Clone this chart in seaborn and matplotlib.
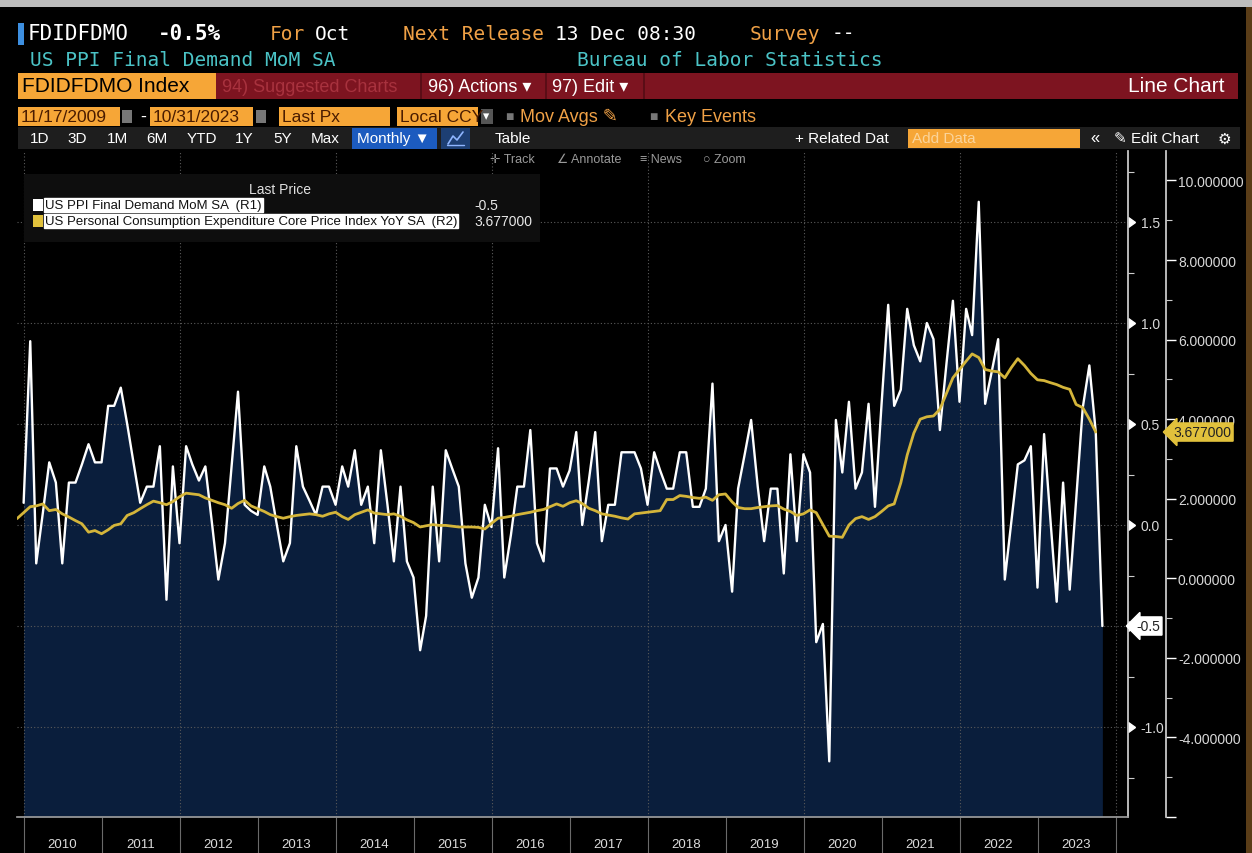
import pandas as pd
import seaborn as sns
import matplotlib.pyplot as plt
import matplotlib.dates as mdates
import matplotlib.ticker as mticker
import matplotlib.markers as mmarkers
from matplotlib.patches import Rectangle
from matplotlib.lines import Line2D
from matplotlib.transforms import blended_transform_factory, offset_copy

# US PPI final demand MoM SA (%), Dec 2009 - Oct 2023
ppi_start = "2009-12-31"
ppi_mom = [
    0.11,
    0.91, -0.19, 0.06, 0.31, 0.21, -0.19, 0.21, 0.21, 0.30, 0.40, 0.31, 0.31,
    0.59, 0.59, 0.68, 0.50, 0.30, 0.11, 0.19, 0.19, 0.39, -0.37, 0.29, -0.09,
    0.39, 0.30, 0.22, 0.29, 0.01, -0.27, -0.09, 0.29, 0.66, 0.10, 0.07, 0.05,
    0.29, 0.19, 0.00, -0.18, -0.09, 0.39, 0.19, 0.12, 0.05, 0.19, 0.19, 0.10,
    0.29, 0.19, 0.37, 0.10, 0.19, -0.09, 0.37, 0.10, -0.18, 0.19, -0.18, -0.26,
    -0.62, -0.45, 0.19, -0.18, 0.37, 0.28, 0.19, -0.19, -0.36, -0.26, 0.10, -0.01,
    0.38, -0.26, -0.05, 0.19, 0.19, 0.47, -0.09, -0.18, 0.28, 0.28, 0.19, 0.27,
    0.46, 0.00, 0.22, 0.46, -0.08, 0.10, 0.10, 0.36, 0.36, 0.36, 0.28, 0.10,
    0.36, 0.27, 0.18, 0.18, 0.36, 0.36, 0.09, 0.09, 0.18, 0.70, -0.08, 0.00,
    -0.33, 0.18, 0.35, 0.52, 0.19, -0.08, 0.18, 0.18, -0.24, 0.35, -0.08, 0.35,
    0.26, -0.58, -0.49, -1.17, 0.52, 0.26, 0.61, 0.18, 0.26, 0.60, 0.09, 0.60,
    1.09, 0.59, 0.67, 1.07, 0.89, 0.81, 1.00, 0.92, 0.47, 0.80, 1.11, 0.61,
    1.07, 0.94, 1.60, 0.60, 0.76, 0.92, -0.27, 0.02, 0.30, 0.32, 0.39, -0.31,
    0.45, 0.05, -0.38, 0.21, -0.32, 0.12, 0.58, 0.79, 0.46, -0.50,
]

# US core PCE price index YoY SA (%), Nov 2009 - Sep 2023
pce_start = "2009-11-30"
pce_yoy = [
    1.50, 1.65,
    1.80, 1.82, 1.87, 1.70, 1.73, 1.62, 1.54, 1.45, 1.37, 1.16, 1.20, 1.12,
    1.22, 1.33, 1.37, 1.58, 1.65, 1.75, 1.85, 1.94, 1.90, 1.85, 1.93, 2.05,
    2.14, 2.12, 2.10, 2.02, 1.96, 1.90, 1.85, 1.76, 1.88, 1.96, 1.82, 1.75,
    1.68, 1.60, 1.55, 1.51, 1.55, 1.58, 1.60, 1.62, 1.60, 1.56, 1.62, 1.66,
    1.55, 1.48, 1.60, 1.66, 1.72, 1.64, 1.62, 1.60, 1.62, 1.56, 1.47, 1.40,
    1.29, 1.32, 1.35, 1.33, 1.33, 1.31, 1.29, 1.29, 1.29, 1.28, 1.24, 1.38,
    1.51, 1.53, 1.56, 1.60, 1.63, 1.66, 1.70, 1.73, 1.80, 1.87, 1.81, 1.90,
    1.95, 1.88, 1.76, 1.70, 1.62, 1.59, 1.56, 1.52, 1.49, 1.62, 1.64, 1.66,
    1.68, 1.70, 1.98, 1.98, 2.08, 2.06, 2.03, 2.01, 2.04, 1.96, 2.10, 2.12,
    1.92, 1.78, 1.75, 1.75, 1.78, 1.80, 1.82, 1.83, 1.74, 1.68, 1.58, 1.62,
    1.72, 1.65, 1.35, 1.06, 1.05, 1.03, 1.34, 1.50, 1.55, 1.48, 1.55, 1.68,
    1.82, 1.87, 2.40, 3.10, 3.65, 4.00, 4.06, 4.08, 4.25, 4.65, 5.04, 5.25,
    5.46, 5.64, 5.55, 5.25, 5.21, 5.19, 5.04, 5.30, 5.52, 5.35, 5.15, 4.99,
    4.97, 4.92, 4.87, 4.80, 4.75, 4.37, 4.29, 4.00, 3.677,
]

r1_ticks = [-1.0, -0.5, 0.0, 0.5, 1.0, 1.5]
r2_ticks = [-6, -4, -2, 0, 2, 4, 6, 8, 10]

ppi_dates = pd.date_range(ppi_start, periods=len(ppi_mom), freq="ME")
pce_dates = pd.date_range(pce_start, periods=len(pce_yoy), freq="ME")

sns.set_theme(style="dark", rc={"axes.facecolor": "black", "figure.facecolor": "black"})
plt.rcParams["font.family"] = ["Liberation Sans", "DejaVu Sans"]

W, H = 1252, 854
fig = plt.figure(figsize=(W / 100, H / 100), dpi=100, facecolor="black")


def fx(x):
    return x / W


def fy(y):
    return 1 - y / H


def box(x0, y0, x1, y1, color, z=1):
    fig.patches.append(Rectangle((fx(x0), fy(y1)), fx(x1) - fx(x0), fy(y0) - fy(y1),
                                 transform=fig.transFigure, color=color, lw=0, zorder=z))


def txt(x, y, s, color="white", size=12, **kw):
    fig.text(fx(x), fy(y), s, color=color, fontsize=size, va="center", **kw)


ORANGE = "#f0a146"
ORBOX = "#f6a637"
TEAL = "#4bc3c6"
MONO = ["DejaVu Sans Mono"]

# ---- header ----
box(0, 0, W, 8, "#bdbdbd")
box(1246, 8, W, H, "#5a3d18")
box(18, 24, 24, 46, "#3d8fe0")
txt(28, 34, "FDIDFDMO", size=15, family=MONO)
txt(158, 34, "-0.5%", size=15, family=MONO, weight="bold")
txt(270, 34, "For", ORANGE, 14, family=MONO)
txt(315, 34, "Oct", size=14, family=MONO)
txt(403, 34, "Next Release", ORANGE, 14, family=MONO)
txt(555, 34, "13 Dec 08:30", size=14, family=MONO)
txt(750, 34, "Survey", ORANGE, 14, family=MONO)
txt(832, 34, "--", size=14, family=MONO)
txt(30, 60, "US PPI Final Demand MoM SA", TEAL, 14, family=MONO)
txt(577, 60, "Bureau of Labor Statistics", TEAL, 14, family=MONO)

box(18, 74, 216, 100, ORBOX)
box(216, 74, 1238, 100, "#7d1420")
box(420, 74, 422, 100, "#5a0d16")
box(545, 74, 547, 100, "#5a0d16")
box(643, 74, 645, 100, "#5a0d16")
txt(22, 87, "FDIDFDMO Index", "black", 15)
txt(222, 87, "94) Suggested Charts", "#a8323e", 13)
txt(428, 87, "96) Actions ▾", size=13)
txt(552, 87, "97) Edit ▾", size=13)
txt(1225, 87, "Line Chart", size=15, ha="right")

for x0, x1, s in [(18, 120, "11/17/2009"), (150, 253, "10/31/2023"),
                  (279, 390, "Last Px"), (397, 478, "Local CCY")]:
    box(x0, 108, x1, 127, ORBOX)
    txt(x0 + 3, 117.5, s, "#4a1c00", 12.5)
box(122, 111, 132, 124, "#777777")
box(256, 111, 266, 124, "#777777")
txt(140, 117, "-", size=13)
box(481, 110, 493, 125, "#555555")
txt(483, 117, "▾", size=9)
txt(505, 117, "■", "#777777", 10)
txt(520, 117, "Mov Avgs ✎", ORANGE, 13)
txt(649, 117, "■", "#777777", 10)
txt(665, 117, "Key Events", ORANGE, 13)

box(18, 128, 1240, 150, "#1e1e1e")
for x, s in [(30, "1D"), (67, "3D"), (107, "1M"), (146, "6M"), (187, "YTD"),
             (235, "1Y"), (273, "5Y"), (311, "Max")]:
    txt(x, 139, s, size=11)
box(352, 129, 437, 150, "#1c5bbf")
txt(357, 139, "Monthly ▼", size=11)
box(441, 129, 470, 150, "#1d3f73")
# small line-chart icon
fig.lines.append(Line2D([fx(448), fx(453), fx(457), fx(463)], [fy(145), fy(137), fy(141), fy(133)],
                        transform=fig.transFigure, color="#8fb6ff", lw=1.2))
fig.lines.append(Line2D([fx(447), fx(464)], [fy(146), fy(146)],
                        transform=fig.transFigure, color="#8fb6ff", lw=1.0))
txt(495, 139, "Table", size=11)
txt(795, 139, "+ Related Dat", size=11)
box(908, 130, 1080, 149, ORBOX)
txt(912, 139, "Add Data", "#fbd49a", 11)
txt(1090, 139, "«", size=12)
txt(1114, 139, "✎ Edit Chart", size=11)
txt(1218, 139, "⚙", size=11, family=["DejaVu Sans"])
for x, s in [(490, "✛ Track"), (557, "∠ Annotate"), (640, "≡ News"), (703, "○ Zoom")]:
    txt(x, 160, s, "#9a9a9a", 9)

# ---- chart ----
ax = fig.add_axes([fx(17), fy(818), fx(1128) - fx(17), fy(152) - fy(818)])
ax.set_facecolor("black")
r1_lo, r1_hi = (526 - 818) / 202, (526 - 152) / 202
r2_lo, r2_hi = (579.5 - 818) / 39.8, (579.5 - 152) / 39.8

ax.fill_between(ppi_dates, ppi_mom, r1_lo, color="#0a1e3c", lw=0, zorder=1)
for d in pd.date_range("2010-01-01", "2024-01-01", freq="2YS"):
    ax.axvline(d, color="#5a5a5a", lw=0.8, ls=(0, (1, 2)), zorder=2)
for v in r1_ticks:
    ax.axhline(v, color="#5a5a5a", lw=0.8, ls=(0, (1, 2)), zorder=2)
sns.lineplot(x=ppi_dates, y=ppi_mom, ax=ax, color="white", lw=1.7, zorder=3)

ax2 = ax.twinx()
sns.lineplot(x=pce_dates, y=pce_yoy, ax=ax2, color="#d4b53a", lw=2.0, zorder=4)

x_lo = pd.Timestamp("2009-11-30")
ax.set_xlim(x_lo, x_lo + pd.Timedelta(days=5203))
ax.set_ylim(r1_lo, r1_hi)
ax2.set_ylim(r2_lo, r2_hi)
ax.set_xlabel("")
ax.set_ylabel("")
ax2.set_ylabel("")

ax.xaxis.set_major_locator(mdates.YearLocator(1))
ax.xaxis.set_major_formatter(mticker.NullFormatter())
ax.xaxis.set_minor_locator(mdates.MonthLocator(bymonth=7, bymonthday=1))
ax.xaxis.set_minor_formatter(mdates.DateFormatter("%Y"))
ax.tick_params(axis="x", which="major", direction="out", length=26, width=0.8,
               color="#6a6a6a", bottom=True)
ax.tick_params(axis="x", which="minor", length=0, pad=15, labelsize=9.5,
               labelcolor="#dcdcdc", bottom=True)

ax.yaxis.tick_right()
ax.set_yticks(r1_ticks)
# the -0.5 level is covered by the last-value callout
ax.set_yticklabels(["" if v == ppi_mom[-1] else f"{v:.1f}" for v in r1_ticks])
ax.yaxis.set_minor_locator(mticker.MultipleLocator(0.25))
ax.tick_params(axis="y", which="major", right=True, left=False, length=7, width=1,
               color="white", labelsize=10, labelcolor="#d8d8d8", pad=2)
ax.tick_params(axis="y", which="minor", right=True, left=False, length=4, width=0.8,
               color="#cccccc")

ax2.set_yticks(r2_ticks)
ax2.set_yticklabels(["" if v == -6 else f"{v:.6f}" for v in r2_ticks])
ax2.yaxis.set_minor_locator(mticker.MultipleLocator(1))
ax2.tick_params(axis="y", which="major", length=7, width=1, color="white",
                labelsize=10, labelcolor="#d8d8d8", pad=2)
ax2.tick_params(axis="y", which="minor", length=4, width=0.8, color="#cccccc")

for t in ax.yaxis.get_major_ticks() + ax2.yaxis.get_major_ticks():
    t.tick2line.set_marker(mmarkers.CARETRIGHTBASE)

for a in (ax, ax2):
    for s in ("top", "left"):
        a.spines[s].set_visible(False)
    a.grid(False)
ax.spines["bottom"].set_color("#9a9a9a")
ax.spines["right"].set_color("#cfcfcf")
ax2.spines["bottom"].set_visible(False)
ax2.spines["right"].set_color("#cfcfcf")
ax2.spines["right"].set_position(("outward", 27))

# last value callouts
tr1 = blended_transform_factory(ax.transAxes, ax.transData)
ax.text(1.0, ppi_mom[-1], f"{ppi_mom[-1]:.1f}", transform=offset_copy(tr1, fig, x=8, units="dots"),
        fontsize=10, color="#222222", va="center", ha="left", zorder=6, clip_on=False,
        bbox=dict(boxstyle="larrow,pad=0.15", fc="white", ec="white"))
tr2 = blended_transform_factory(ax2.transAxes, ax2.transData)
ax2.text(1.0, pce_yoy[-1], f"{pce_yoy[-1]:.6f}", transform=offset_copy(tr2, fig, x=45, units="dots"),
         fontsize=10, color="#222222", va="center", ha="left", zorder=6, clip_on=False,
         bbox=dict(boxstyle="larrow,pad=0.15", fc="#e1c13c", ec="#e1c13c"))

# legend panel
box(24, 175, 540, 243, "#0e0e0e")
txt(280, 190, "Last Price", "#e0e0e0", 10, ha="center")
rows = [("US PPI Final Demand MoM SA  (R1)", "white", f"{ppi_mom[-1]:.1f}", 206),
        ("US Personal Consumption Expenditure Core Price Index YoY SA  (R2)", "#e1c13c",
         f"{pce_yoy[-1]:.6f}", 222)]
for name, col, val, y in rows:
    box(33, y - 6, 43, y + 6, col, z=3)
    fig.text(fx(45), fy(y), name, color="#111111", fontsize=9.5, va="center", zorder=4,
             bbox=dict(boxstyle="square,pad=0.08", fc="white", ec="white"))
    txt(474, y, val, "#e8e8e8", 10)

fig.savefig("out.png", dpi=100, facecolor="black")
